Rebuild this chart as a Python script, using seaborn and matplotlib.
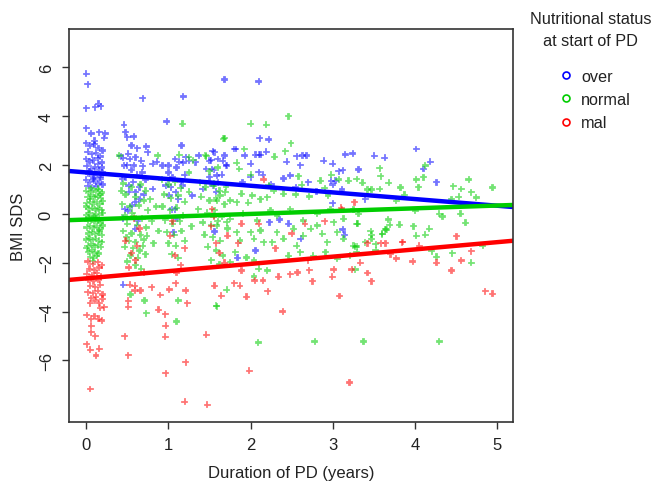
import numpy as np
import pandas as pd
import matplotlib.pyplot as plt
import seaborn as sns
from matplotlib.lines import Line2D

sns.set_style('white')
plt.rcParams['font.family'] = ['Liberation Sans', 'DejaVu Sans']

groups = ['over', 'normal', 'mal']
palette = {'over': '#0000FF', 'normal': '#00CD00', 'mal': '#FF0000'}

# (duration of PD in years, BMI SDS)
over_points = [
    (0.00, 5.74), (0.02, 5.31), (0.00, 4.33), (0.11, 4.37), (0.15, 4.51), (0.18, 4.41),
    (0.00, 3.51), (0.06, 3.30), (0.16, 3.35), (0.23, 3.30), (0.22, 3.11), (0.10, 3.00),
    (0.00, 2.90), (0.05, 2.80), (0.10, 2.85), (0.15, 2.70), (0.20, 2.60), (0.02, 2.55),
    (0.07, 2.45), (0.12, 2.50), (0.17, 2.35), (0.00, 2.25), (0.04, 2.15), (0.09, 2.20),
    (0.14, 2.05), (0.19, 2.10), (0.01, 1.95), (0.06, 1.85), (0.11, 1.90), (0.16, 1.80),
    (0.20, 1.70), (0.03, 1.65), (0.08, 1.55), (0.13, 1.60), (0.18, 1.45), (0.00, 1.40),
    (0.05, 1.30), (0.10, 1.35), (0.15, 1.25), (0.20, 1.20), (0.02, 1.15), (0.07, 1.10),
    (0.12, 1.12), (0.17, 1.50), (0.04, 1.75), (0.09, 1.45), (0.14, 2.30), (0.19, 1.90),
    (0.46, 3.65), (0.48, 3.35), (0.50, 3.14), (0.58, 3.17), (0.55, 2.80), (0.62, 2.69),
    (0.73, 2.76), (0.75, 2.53), (0.69, 4.74), (0.42, 2.36), (0.51, 2.46), (0.53, 2.25),
    (0.60, 2.32), (0.67, 2.18), (0.46, 1.98), (0.58, 1.98), (0.69, 1.95), (0.81, 2.05),
    (0.86, 2.14), (0.93, 1.98), (1.00, 1.98), (0.45, 2.30), (0.50, 2.00), (0.55, 1.80),
    (0.62, 1.60), (0.68, 1.70), (0.72, 1.40), (0.48, 1.50), (0.57, 1.30), (0.65, 1.10),
    (0.52, 0.90), (0.60, 0.50), (0.70, 0.80), (0.47, 0.20), (0.63, -0.30), (0.44, 1.43),
    (0.52, 1.16), (0.60, 0.89), (0.65, 0.61), (0.81, 1.02), (0.97, 1.16), (1.01, 0.75),
    (1.09, 0.89), (1.17, 1.16), (1.29, 0.75), (1.42, 1.02), (1.54, 1.16), (0.51, 0.14),
    (0.56, 0.34), (0.45, -0.20), (0.60, -0.61), (1.04, 0.20), (1.10, -0.20), (1.06, -0.75),
    (0.45, -2.90), (1.18, 4.81), (0.98, 3.78), (1.16, 2.80), (1.08, 2.25), (1.13, 2.14),
    (1.21, 2.32), (1.25, 2.18), (1.33, 2.12), (1.37, 2.39), (1.46, 1.84), (1.50, 2.18),
    (1.56, 2.53), (1.60, 2.25), (1.00, 1.70), (1.05, 1.50), (1.10, 1.90), (1.15, 1.30),
    (1.20, 1.60), (1.03, 1.10), (1.12, 0.60), (1.08, 0.20), (1.18, 2.10), (1.50, 1.50),
    (1.55, 1.80), (1.60, 1.30), (1.65, 1.60), (1.70, 2.00), (1.58, 0.90), (1.52, 2.20),
    (1.68, 5.50), (2.10, 5.42), (2.11, 3.10), (2.22, 3.05), (1.80, 2.66), (1.82, 2.66),
    (1.54, 2.57), (1.68, 2.39), (1.66, 2.18), (1.71, 1.98), (1.93, 2.39), (2.06, 2.42),
    (2.10, 2.42), (2.12, 2.42), (2.00, 2.05), (2.19, 2.55), (2.44, 2.14), (2.56, 2.36),
    (2.63, 2.39), (2.68, 2.39), (2.60, 2.00), (2.89, 2.18), (3.00, 2.05), (3.15, 2.43),
    (3.24, 2.47), (2.48, 1.57), (2.10, 1.71), (2.15, 1.60), (1.53, 1.84), (1.59, 1.57),
    (3.07, 1.75), (3.12, 1.79), (3.00, 0.44), (1.90, 1.30), (2.00, 1.50), (2.25, 1.20),
    (2.40, 1.45), (2.55, 1.10), (2.70, 1.30), (2.80, 0.90), (3.00, 1.20), (2.98, 1.36),
    (3.03, 1.36), (3.11, 1.00), (3.50, 2.38), (3.63, 2.30), (4.01, 2.66), (4.18, 2.14),
    (4.10, 1.84), (4.26, 1.30), (3.31, 1.82), (3.39, 0.61), (2.46, -0.41), (2.61, -1.02),
    (3.12, -0.64), (3.14, -0.86), (1.84, -1.80), (2.06, -1.50), (1.56, -0.72), (2.23, -0.34),
    (2.35, -0.23),
]

normal_points = [
    (0.00, 0.95), (0.04, 0.90), (0.08, 0.97), (0.12, 0.92), (0.16, 0.96), (0.19, 0.88),
    (0.02, 0.70), (0.06, 0.75), (0.10, 0.68), (0.14, 0.72), (0.18, 0.65), (0.01, 0.45),
    (0.05, 0.50), (0.09, 0.42), (0.13, 0.48), (0.17, 0.40), (0.20, 0.52), (0.03, 0.20),
    (0.07, 0.25), (0.11, 0.18), (0.15, 0.22), (0.19, 0.15), (0.00, -0.05), (0.04, 0.02),
    (0.08, -0.08), (0.12, 0.00), (0.16, -0.03), (0.20, 0.05), (0.02, -0.30), (0.06, -0.25),
    (0.10, -0.33), (0.14, -0.28), (0.18, -0.35), (0.01, -0.55), (0.05, -0.50), (0.09, -0.58),
    (0.13, -0.52), (0.17, -0.60), (0.20, -0.48), (0.03, -0.80), (0.07, -0.75), (0.11, -0.83),
    (0.15, -0.78), (0.19, -0.85), (0.00, -1.05), (0.04, -1.00), (0.08, -1.08), (0.12, -1.02),
    (0.16, -1.10), (0.02, -1.30), (0.06, -1.25), (0.10, -1.33), (0.14, -1.28), (0.18, -1.35),
    (0.03, -1.55), (0.07, -1.50), (0.11, -1.58), (0.15, -1.62), (0.05, -1.75), (0.09, -1.80),
    (0.13, -1.72), (0.08, -1.92), (0.00, 0.30), (0.03, -0.15), (0.17, 0.80), (0.01, -1.40),
    (0.19, -1.15), (0.06, 1.05), (0.14, 1.03), (0.10, -0.10), (0.05, 0.62), (0.16, -0.68),
    (0.45, 1.25), (0.55, 1.10), (0.66, 1.20), (0.72, 0.95), (0.48, 0.80), (0.60, 0.70),
    (0.70, 0.55), (0.44, 0.40), (0.53, 0.30), (0.64, 0.35), (0.75, 0.15), (0.47, -0.05),
    (0.58, -0.10), (0.68, -0.20), (0.50, -0.40), (0.62, -0.45), (0.73, -0.55), (0.45, -0.70),
    (0.55, -0.80), (0.66, -0.85), (0.52, -1.10), (0.60, -1.15), (0.70, -1.05), (0.47, -1.35),
    (0.57, -1.40), (0.65, -1.50), (0.54, -1.70), (0.63, -1.80), (0.72, -1.65), (0.50, -1.95),
    (0.60, -2.10), (0.67, -2.25), (0.78, 0.60), (0.80, -0.30), (0.82, -1.20), (0.85, 0.30),
    (0.88, -0.70), (0.56, 0.05), (0.49, -0.95), (0.69, -1.30), (0.43, 0.95), (0.74, -0.90),
    (0.92, 1.40), (1.00, 1.20), (1.08, 1.30), (1.15, 1.05), (0.95, 0.80), (1.03, 0.65),
    (1.12, 0.75), (1.20, 0.50), (0.93, 0.30), (1.02, 0.15), (1.10, 0.25), (1.18, -0.05),
    (0.96, -0.25), (1.05, -0.40), (1.14, -0.30), (0.98, -0.75), (1.07, -0.85), (1.16, -0.70),
    (1.00, -1.20), (1.09, -1.30), (1.20, -1.10), (1.04, -1.65), (1.12, -1.80), (1.25, 0.90),
    (1.28, -0.50), (1.17, 3.69), (1.67, 3.07), (1.38, 1.30), (1.45, 1.10), (1.55, 1.25),
    (1.62, 0.95), (1.70, 1.10), (1.40, 0.70), (1.50, 0.55), (1.58, 0.65), (1.68, 0.40),
    (1.36, 0.20), (1.47, 0.05), (1.56, 0.15), (1.65, -0.10), (1.42, -0.35), (1.52, -0.45),
    (1.60, -0.30), (1.72, -0.60), (1.44, -0.85), (1.54, -0.95), (1.63, -1.10), (1.48, -1.35),
    (1.58, -1.50), (1.66, -1.70), (1.52, -1.90), (1.62, -2.05), (1.30, 2.20), (1.45, 2.40),
    (1.60, 1.90), (1.25, 1.70), (1.50, 1.75), (0.87, 2.39), (1.13, 2.42), (1.25, 2.32),
    (1.46, 2.36), (0.40, 2.39), (2.00, 3.69), (2.19, 3.65), (2.46, 4.00), (2.49, 2.90),
    (1.68, 3.10), (1.92, 2.66), (2.29, 2.34), (2.42, 2.57), (1.83, 2.09), (1.86, 1.84),
    (2.00, 1.60), (2.58, 1.54), (2.62, 1.19), (2.98, 1.60), (3.07, 1.41), (3.19, 1.35),
    (3.29, 1.43), (2.85, 1.36), (2.90, 1.05), (2.94, 0.75), (2.71, 0.71), (2.55, 0.79),
    (2.40, 0.82), (2.28, 0.96), (2.22, 1.16), (2.20, 0.68), (2.12, 0.61), (2.02, 0.75),
    (1.97, 0.45), (1.89, 0.82), (1.83, 0.48), (1.75, 0.55), (1.69, 0.89), (1.63, 0.75),
    (1.59, 0.55), (1.55, 1.16), (2.32, -0.07), (2.48, 0.20), (2.64, -0.27), (2.81, 0.00),
    (2.97, 0.20), (3.13, -0.20), (3.25, 0.20), (1.55, -0.07), (1.75, -0.20), (1.91, 0.00),
    (2.08, -0.27), (2.24, 0.14), (1.59, -0.48), (1.71, -0.34), (1.83, -0.75), (1.87, -1.09),
    (2.00, -0.75), (2.04, -1.02), (2.12, -0.68), (2.16, -1.16), (2.26, -1.16), (2.32, -0.75),
    (2.40, -1.02), (2.52, -0.61), (2.56, -1.30), (2.64, -0.89), (2.73, -0.61), (2.81, -0.48),
    (2.87, -0.82), (2.93, -1.16), (3.01, -0.34), (3.05, -0.75), (3.13, -1.02), (3.25, -1.30),
    (3.29, -0.41), (2.04, -1.91), (2.10, -2.25), (2.20, -2.32), (1.95, -1.78), (1.75, -1.98),
    (2.46, -1.71), (2.60, -1.57), (2.76, -1.71), (2.91, -1.57), (3.05, -1.84), (3.21, -1.71),
    (3.29, -1.57), (1.81, -1.57), (0.73, -4.07), (0.71, -3.55), (1.10, -4.41), (1.12, -3.55),
    (1.58, -3.76), (0.54, -3.30), (2.09, -5.27), (2.78, -5.22), (1.59, -3.78), (1.71, -3.11),
    (2.04, -2.56), (3.37, -5.22), (4.29, -5.22), (3.52, -1.50), (4.26, -1.75), (4.45, -1.61),
    (4.68, -2.00), (3.27, -2.28), (4.82, -1.30), (3.46, -0.70), (3.65, -0.64), (4.01, -0.89),
    (4.12, -0.86), (4.17, -0.61), (3.98, -0.50), (3.81, -0.45), (3.69, -0.45), (3.29, -1.34),
    (3.60, -0.83), (4.61, -0.37), (4.20, -1.53), (3.52, -1.24), (3.57, 1.87), (3.58, 1.54),
    (3.36, 1.27), (3.42, 1.00), (3.47, 1.00), (3.57, 1.02), (3.68, 1.27), (3.82, 1.08),
    (4.01, 1.41), (4.04, 1.10), (4.10, 1.50), (4.12, 1.98), (4.46, 1.13), (4.56, 1.02),
    (4.65, 1.41), (4.68, 0.89), (4.74, 0.67), (4.94, 1.08), (4.44, 0.61), (4.53, 0.70),
    (3.87, 0.78), (3.77, 0.53), (4.00, 0.12), (4.29, 0.00), (4.33, -0.10), (4.55, 0.00),
    (3.67, -0.23), (3.64, -0.64), (3.60, -0.82), (3.30, -0.41), (3.31, 0.00), (3.27, -1.33),
    (3.47, -0.86), (3.47, -1.02), (3.39, -1.16),
]

mal_points = [
    (0.05, -7.17), (0.01, -5.33), (0.05, -5.57), (0.16, -5.53), (0.12, -5.80), (0.11, -5.00),
    (0.06, -4.84), (0.06, -4.58), (0.01, -4.14), (0.06, -4.30), (0.10, -4.18), (0.15, -4.30),
    (0.19, -4.37), (0.17, -3.84), (0.22, -3.82), (0.05, -3.65), (0.11, -3.55), (0.16, -3.65),
    (0.20, -3.48), (0.02, -1.95), (0.08, -2.05), (0.14, -1.98), (0.19, -2.10), (0.04, -2.25),
    (0.10, -2.30), (0.16, -2.20), (0.01, -2.45), (0.07, -2.50), (0.13, -2.42), (0.18, -2.55),
    (0.03, -2.70), (0.09, -2.75), (0.15, -2.68), (0.05, -2.95), (0.11, -3.00), (0.17, -2.90),
    (0.02, -3.20), (0.08, -3.25), (0.14, -3.15), (0.20, -3.30), (0.06, -3.45), (0.12, -3.40),
    (0.47, -5.00), (0.51, -5.78), (0.51, -3.80), (0.51, -3.56), (0.53, -2.90), (0.59, -3.14),
    (0.66, -3.14), (0.59, -2.94), (0.80, -3.00), (0.90, -3.32), (0.88, -3.93), (0.96, -4.10),
    (0.97, -4.58), (0.96, -5.03), (0.97, -6.52), (1.01, -3.10), (1.21, -6.07), (1.20, -7.69),
    (1.46, -4.95), (1.47, -7.82), (1.23, -3.65), (1.21, -3.14), (1.09, -2.83), (1.56, -2.94),
    (0.48, -1.10), (0.55, -1.60), (0.60, -1.90), (0.65, -0.60), (0.52, -2.20), (0.70, -2.40),
    (0.58, -0.20), (0.62, -1.30), (1.02, -0.90), (1.08, -1.70), (1.15, -2.10), (1.05, -0.30),
    (1.20, -1.40), (1.10, -2.40), (1.52, -0.50), (1.58, -1.20), (1.62, -1.60), (1.68, -2.00),
    (1.55, -0.10), (1.72, -0.90), (1.85, -1.20), (2.10, -0.40), (2.30, -1.40), (2.50, -0.80),
    (2.70, -1.90), (2.90, -0.30), (2.16, 1.41), (3.26, 0.48), (3.11, 0.20), (1.89, -0.41),
    (2.66, -0.41), (1.53, 0.20), (3.10, 0.25), (1.95, -3.40), (2.39, -4.00), (1.98, -6.43),
    (3.20, -6.90), (3.08, -3.36), (2.75, -2.76), (2.21, -3.16), (2.34, -2.58), (2.48, -2.47),
    (2.57, -2.40), (2.71, -2.30), (1.80, -2.83), (1.87, -2.94), (2.05, -2.72), (2.15, -2.73),
    (1.64, -3.35), (2.99, -2.57), (3.01, -2.28), (3.23, -2.28), (1.89, -2.32), (3.33, -2.00),
    (3.42, -2.42), (3.47, -2.75), (3.77, -1.82), (3.97, -1.95), (4.26, -2.00), (4.44, -2.32),
    (4.56, -1.91), (4.68, -1.53), (4.85, -3.16), (4.94, -3.27), (4.50, -0.91), (3.85, -1.15),
    (4.05, -1.30), (3.42, -1.20), (3.58, -1.20), (3.64, -1.20), (3.70, -1.65), (3.84, -1.16),
]

# fitted lines per group: BMI SDS = intercept + slope * duration
fit_intercept = [1.70, -0.23, -2.64]
fit_slope = [-0.273, 0.115, 0.297]

x_ticks = [0, 1, 2, 3, 4, 5]
y_ticks = [-6, -4, -2, 0, 2, 4, 6]

frames = []
for g, pts in zip(groups, [over_points, normal_points, mal_points]):
    d = pd.DataFrame(pts, columns=['duration', 'bmi_sds'])
    d['status'] = g
    frames.append(d)
df = pd.concat(frames, ignore_index=True)

fig = plt.figure(figsize=(6.52, 4.89), dpi=100)
ax = fig.add_axes([0.106, 0.135, 0.681, 0.804])

sns.scatterplot(data=df, x='duration', y='bmi_sds', hue='status', palette=palette,
                marker='P', s=25, alpha=0.55, linewidth=0.3, legend=False, ax=ax)

ax.set_xlim(-0.207, 5.19)
ax.set_ylim(-8.52, 7.58)

xs = np.array(ax.get_xlim())
for g, b0, b1 in zip(groups, fit_intercept, fit_slope):
    ax.plot(xs, b0 + b1 * xs, color=palette[g], lw=3.2, solid_capstyle='butt')

ax.set_xticks(x_ticks)
ax.set_yticks(y_ticks)
ax.tick_params(bottom=True, left=True, direction='out', length=5, width=1,
               color='#333333', labelsize=12, pad=6, labelcolor='#222222')
plt.setp(ax.get_yticklabels(), rotation=90, va='center')
for s in ax.spines.values():
    s.set_color('#333333')
    s.set_linewidth(1.2)

ax.set_xlabel('Duration of PD (years)', fontsize=12, labelpad=9, color='#222222')
ax.set_ylabel('BMI SDS', fontsize=12, labelpad=9, color='#222222')

fig.text(0.906, 0.975, 'Nutritional status\nat start of PD', ha='center', va='top',
         multialignment='center', fontsize=11.7, color='#222222', linespacing=1.6)
handles = [Line2D([], [], marker='o', ls='', markersize=5, markerfacecolor='none',
                  markeredgecolor=palette[g], markeredgewidth=1.2) for g in groups]
fig.legend(handles, groups, loc='upper left', bbox_to_anchor=(559 / 652, 1 - 70 / 489),
           frameon=False, fontsize=11.7, borderpad=0, borderaxespad=0, handlelength=0.8,
           handletextpad=0.55, labelspacing=0.5, labelcolor='#222222')

fig.savefig('out.png', dpi=100)
